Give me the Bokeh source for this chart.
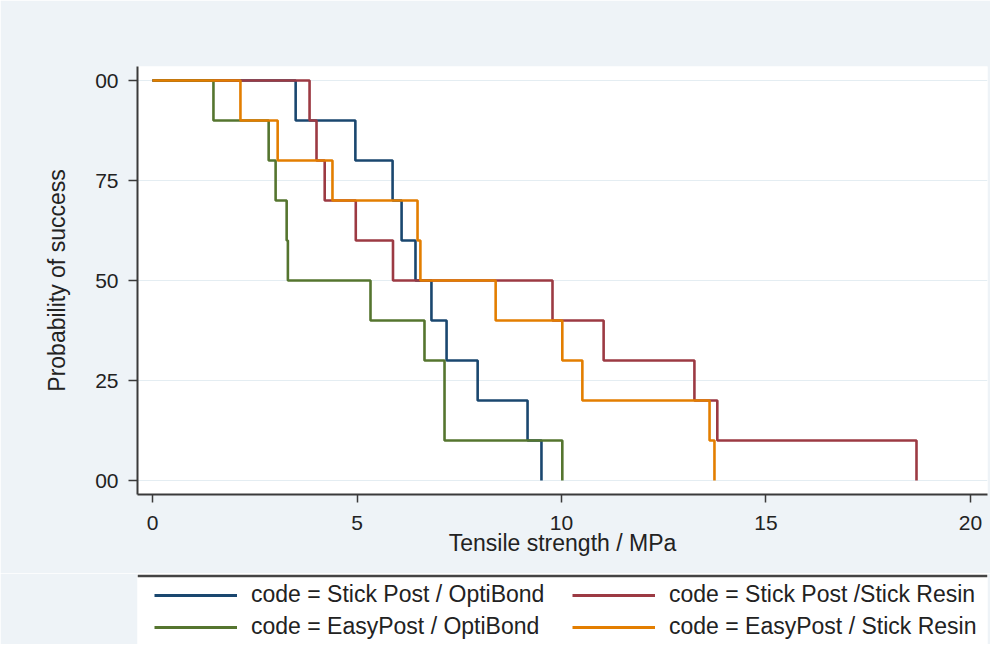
from bokeh.plotting import figure
from bokeh.models import Range1d, Legend, LegendItem, Span, FixedTicker
from bokeh.layouts import column
from bokeh.embed import file_html
from bokeh.resources import INLINE

# ---- data ----
series_labels = [
    "code = Stick Post / OptiBond",
    "code = Stick Post /Stick Resin",
    "code = EasyPost / OptiBond",
    "code = EasyPost / Stick Resin",
]
series_colors = ["#1a476f", "#9c3a43", "#55752f", "#e37e00"]

# failure times (MPa) and survival after each step
t_stick_opti = [0, 3.50, 4.96, 5.87, 6.09, 6.43, 6.82, 7.19, 7.95, 9.17, 9.51]
s_stick_opti = [1.0, 0.9, 0.8, 0.7, 0.6, 0.5, 0.4, 0.3, 0.2, 0.1, 0.0]

t_stick_resin = [0, 3.84, 4.01, 4.21, 4.97, 5.88, 9.78, 11.03, 13.25, 13.81, 18.68]
s_stick_resin = [1.0, 0.9, 0.8, 0.7, 0.6, 0.5, 0.4, 0.3, 0.2, 0.1, 0.0]

t_easy_opti = [0, 1.49, 2.84, 3.01, 3.28, 3.31, 5.33, 6.65, 7.14, 10.02]
s_easy_opti = [1.0, 0.9, 0.8, 0.7, 0.6, 0.5, 0.4, 0.3, 0.1, 0.0]

t_easy_resin = [0, 2.15, 3.06, 4.40, 6.48, 6.55, 8.39, 10.02, 10.51, 13.62, 13.74]
s_easy_resin = [1.0, 0.9, 0.8, 0.7, 0.6, 0.5, 0.4, 0.3, 0.2, 0.1, 0.0]

x_ticks = [0, 5, 10, 15, 20]
y_ticks = [0, 0.25, 0.5, 0.75, 1.0]
y_tick_labels = ["00", "25", "50", "75", "00"]

x_title = "Tensile strength / MPa"
y_title = "Probability of success"

# ---- styling ----
BG = "#eef3f7"
FONT = "Liberation Sans"
AX = "#3a3a3a"
TXT = "#222222"

p = figure(width=990, height=573, output_backend="svg", toolbar_location=None,
           x_range=Range1d(-0.367, 20.416), y_range=Range1d(-0.035, 1.035),
           min_border_left=137, min_border_right=3, min_border_top=66,
           min_border_bottom=79,
           background_fill_color="white", border_fill_color=BG,
           outline_line_color=None)

series = [
    (t_stick_opti, s_stick_opti),
    (t_stick_resin, s_stick_resin),
    (t_easy_opti, s_easy_opti),
    (t_easy_resin, s_easy_resin),
]
for (tx, sy), c in zip(series, series_colors):
    p.step(tx, sy, mode="after", line_color=c, line_width=2.6)

p.xaxis.ticker = FixedTicker(ticks=x_ticks)
p.yaxis.ticker = FixedTicker(ticks=y_ticks)
p.yaxis.major_label_overrides = {float(k): v for k, v in zip(y_ticks, y_tick_labels)}
p.xaxis.axis_label = x_title
p.yaxis.axis_label = y_title

for ax in (p.xaxis[0], p.yaxis[0]):
    ax.axis_line_color = AX
    ax.axis_line_width = 2
    ax.major_tick_line_color = AX
    ax.major_tick_line_width = 1.5
    ax.minor_tick_line_color = None
    ax.major_tick_in = 0
    ax.major_label_text_font = FONT
    ax.major_label_text_font_size = "21px"
    ax.major_label_text_color = TXT
    ax.axis_label_text_font = FONT
    ax.axis_label_text_font_size = "23px"
    ax.axis_label_text_font_style = "normal"
    ax.axis_label_text_color = TXT

p.xaxis.major_tick_out = 8
p.xaxis.major_label_standoff = 13
p.xaxis.axis_label_standoff = -3
p.yaxis.major_tick_out = 9
p.yaxis.major_label_standoff = 10
p.yaxis.axis_label_standoff = 22

p.xgrid.visible = False
p.ygrid.ticker = FixedTicker(ticks=y_ticks)
p.ygrid.grid_line_color = "#e4edf2"
p.ygrid.grid_line_width = 1.2

# ---- legend panel (series drawn again, but outside its visible x range,
#      so that only the legend keys show) ----
q = figure(width=990, height=71, output_backend="svg", toolbar_location=None,
           x_range=Range1d(30, 31), y_range=Range1d(0, 1),
           x_axis_location=None, y_axis_location=None,
           min_border_left=96, min_border_right=0, min_border_top=0,
           min_border_bottom=0,
           background_fill_color="white", border_fill_color=BG,
           outline_line_color=None)
q.grid.visible = False
q.add_layout(Span(location=0.965, dimension="width", line_color="#444444",
                  line_width=2.5))

items = []
for (tx, sy), c, lab in zip(series, series_colors, series_labels):
    r = q.step(tx, sy, mode="after", line_color=c, line_width=3)
    items.append(LegendItem(label=lab, renderers=[r]))

leg = Legend(items=items, location=(17, 4), orientation="horizontal", ncols=2,
             label_text_font=FONT, label_text_font_size="23px",
             label_text_color=TXT, glyph_width=83, glyph_height=26,
             label_height=26, label_width=316, label_standoff=14,
             spacing=5, padding=0, margin=0, border_line_color=None,
             background_fill_alpha=0)
q.add_layout(leg, "center")

layout = column(p, q, spacing=0)
open("out.html", "w").write(file_html(layout, INLINE))
